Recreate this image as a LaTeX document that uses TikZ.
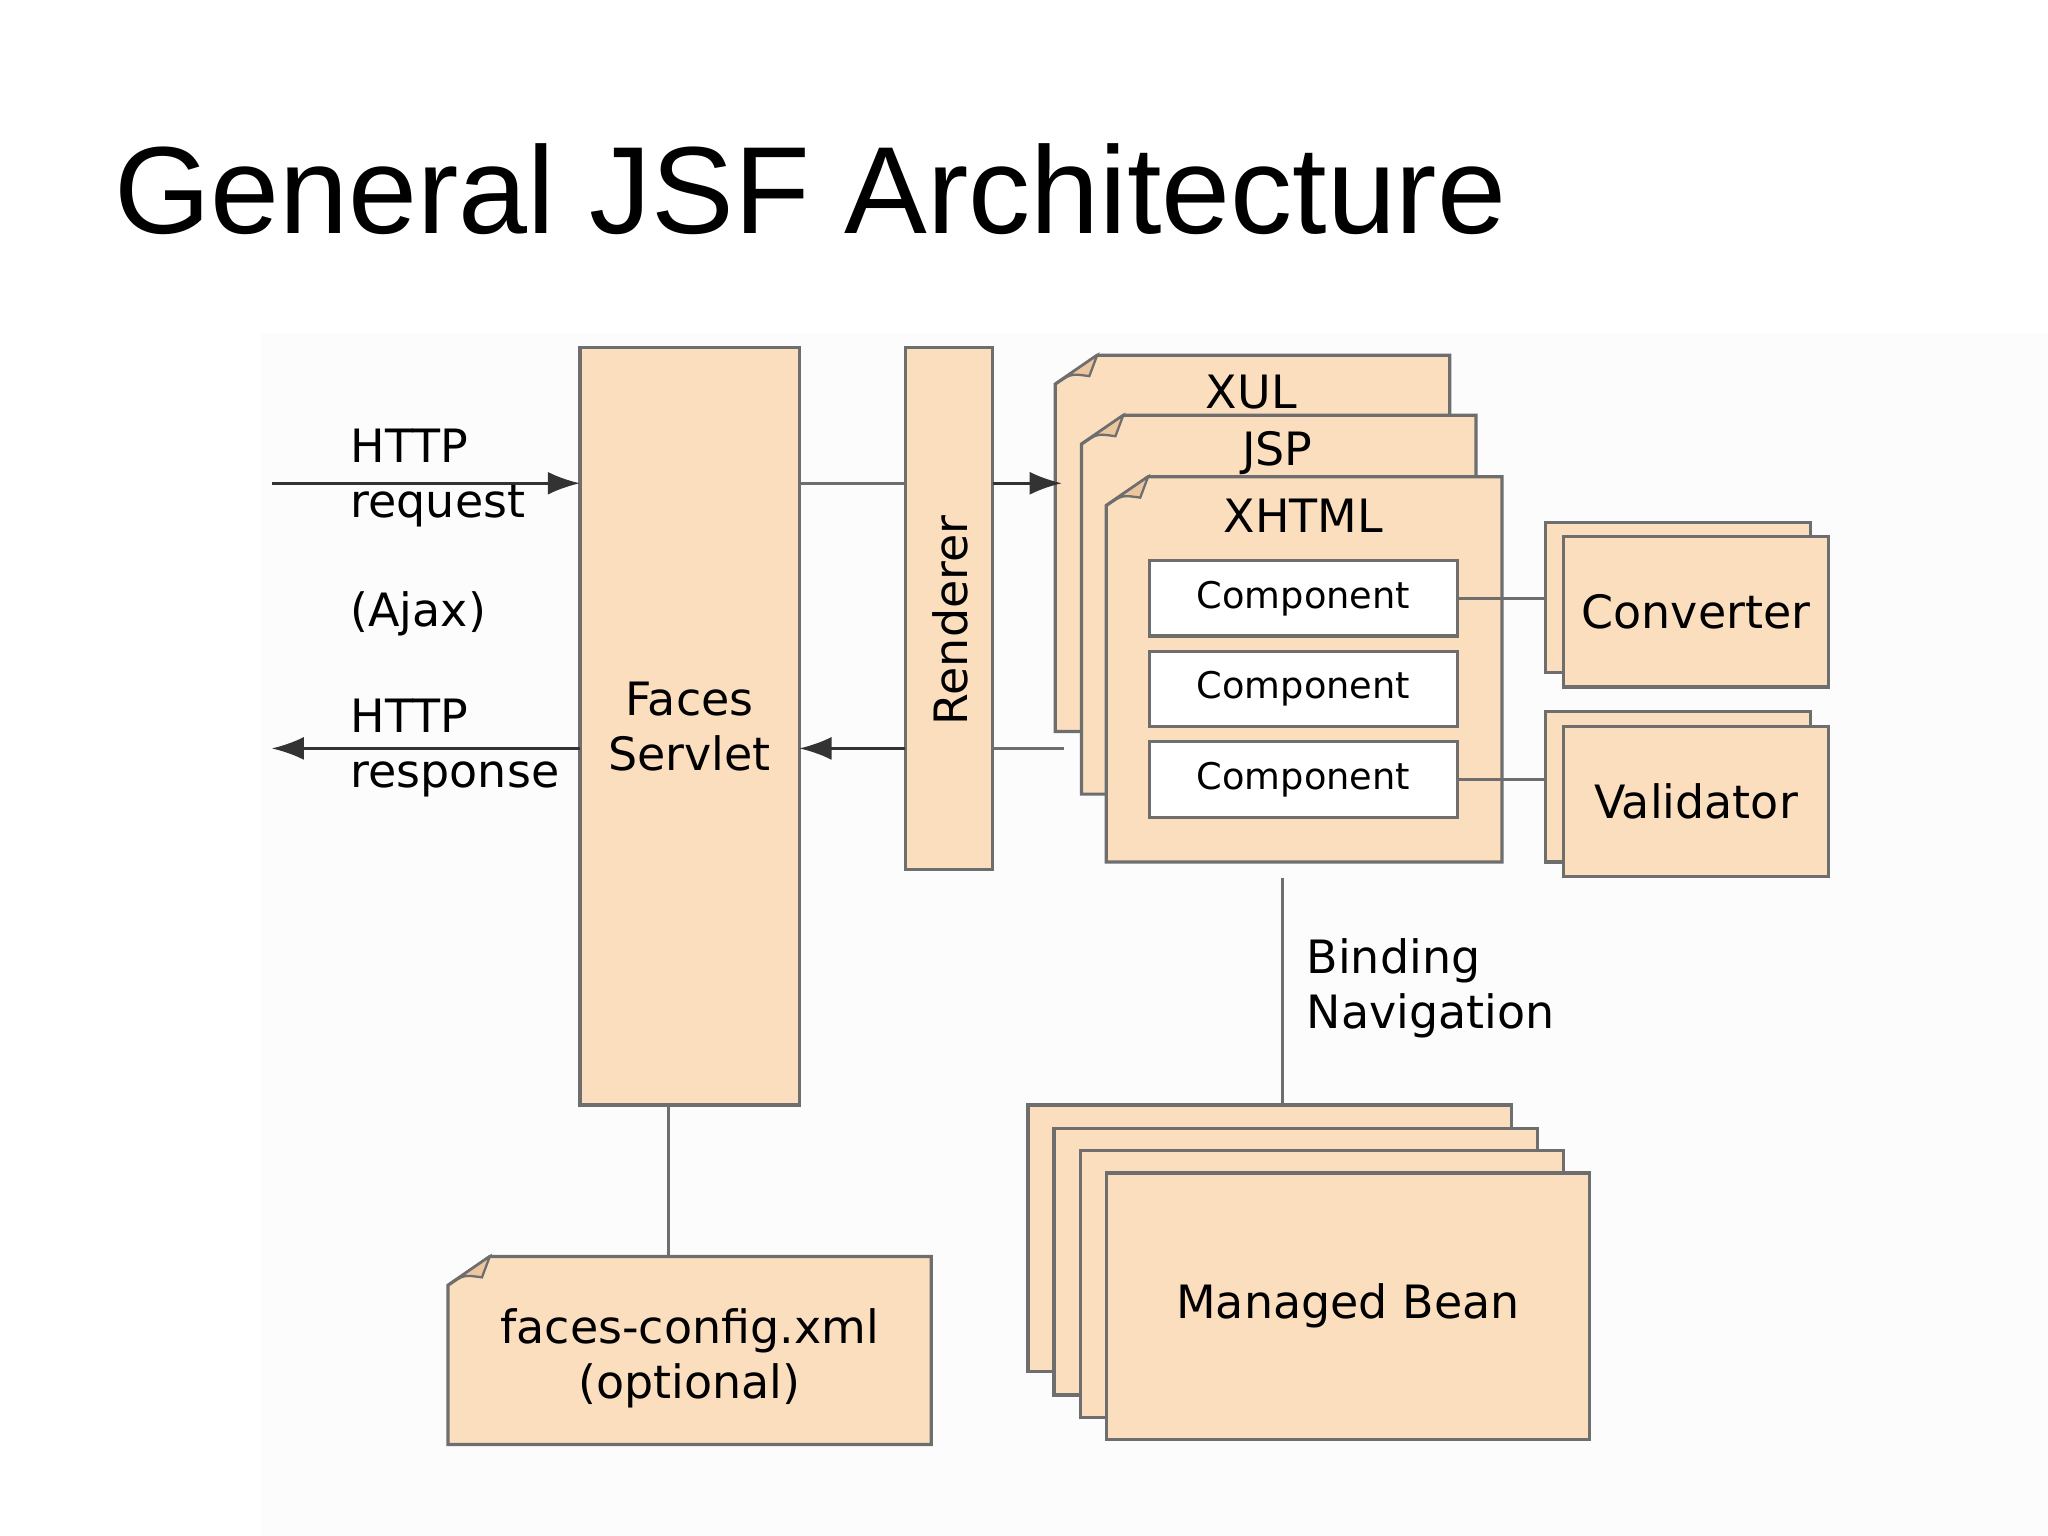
\documentclass[tikz,border=0pt]{standalone}
\usepackage{fontspec}
\setmainfont{DejaVu Sans}
\newfontfamily\titlefont{Liberation Sans}
\usetikzlibrary{fit,arrows.meta}
\definecolor{peach}{RGB}{251,222,190}
\definecolor{edge}{RGB}{110,110,110}
\tikzset{
 box/.style={draw=edge,fill=peach,line width=0.7pt,inner sep=0pt,outer sep=0pt},
 wbox/.style={draw=edge,fill=white,line width=0.7pt,inner sep=0pt,outer sep=0pt},
 ghost/.style={inner sep=0pt,outer sep=0pt},
 conn/.style={draw=edge,line width=0.6pt},
 arr/.style={conn,-{Latex[length=7pt,width=5pt]},draw=black!80},
 txt/.style={font=\fontsize{10}{12}\selectfont,align=left},
 ctxt/.style={font=\fontsize{10}{12}\selectfont,align=center},
}
\newcommand\docshape[5]{%
 \path[box] (#1,#2+22) -- (#1+32,#2) -- (#3,#2) -- (#3,#4) -- (#1,#4) -- cycle;
 \path[draw=edge,fill=peach!75!brown,line width=0.5pt] (#1,#2+22) .. controls (#1+12,#2+14) .. (#1+26,#2+16) -- (#1+32,#2) -- cycle;
 \node[ghost,fit={(#1,#2)(#3,#4)}] (#5) {};}
\begin{document}
\begin{tikzpicture}[x=0.01cm,y=-0.01cm]
\useasboundingbox (0,0) rectangle (1568,1176);
\fill[black!1] (200,255) rectangle (1568,1176);
\node[anchor=west,font=\titlefont\fontsize{27}{30}\selectfont] (title) at (75,145) {General JSF Architecture};
% servlet & renderer
\node[box,fit={(444,266)(612,846)}] (servlet) {};
\node[ctxt,align=center] at (528,556) {Faces\\Servlet};
\node[box,fit={(693,266)(760,666)}] (renderer) {};
\node[ctxt,rotate=90] at (728,475) {Renderer};
% documents
\docshape{808}{272}{1110}{560}{xul}
\node[ctxt] at (958,300) {XUL};
\docshape{828}{318}{1130}{608}{jsp}
\node[ctxt] at (978,347) {JSP};
\docshape{847}{365}{1150}{660}{xhtml}
\node[ctxt] at (998,395) {XHTML};
\foreach \n/\a/\b in {c1/429/487,c2/499/556,c3/568/626}{
 \node[wbox,fit={(880,\a)(1116,\b)}] (\n) {};
 \node[font=\fontsize{8}{9}\selectfont] at (\n.center) {Component};}
% converter / validator
\node[box,fit={(1183,400)(1386,515)}] (conv0) {};
\node[box,fit={(1197,411)(1400,526)}] (conv) {};
\node[ctxt] at (conv.center) {Converter};
\node[box,fit={(1183,545)(1386,660)}] (val0) {};
\node[box,fit={(1197,556)(1400,671)}] (val) {};
\node[ctxt] at (val.center) {Validator};
\draw[conn] (c1.east) -- (c1.east -| conv0.west);
\draw[conn] (c3.east) -- (c3.east -| val0.west);
% beans
\node[box,fit={(787,846)(1157,1050)}] (mb1) {};
\node[box,fit={(807,864)(1177,1068)}] (mb2) {};
\node[box,fit={(827,881)(1197,1085)}] (mb3) {};
\node[box,fit={(847,898)(1217,1102)}] (mb) {};
\node[ctxt] at (1032,1000) {Managed Bean};
\coordinate (bt) at (982,672);
\draw[conn] (bt) -- (982,846);
\node[txt,anchor=west] at (988,757) {Binding\\Navigation};
% faces config
\docshape{343}{962}{713}{1106}{cfg}
\node[ctxt] at (528,1040) {faces-config.xml\\(optional)};
\draw[conn] (512,846) -- (512,962);
% http
\coordinate (reqs) at (208,370);
\coordinate (resp) at (208,573);
\draw[arr] (reqs) -- (444,370);
\draw[arr] (444,573) -- (resp);
\node[txt,anchor=west] at (256,366) {HTTP\\request};
\node[txt,anchor=west] at (256,470) {(Ajax)};
\node[txt,anchor=west] at (256,573) {HTTP\\response};
\draw[conn] (612,370) -- (693,370);
\draw[arr] (760,370) -- (813,370);
\draw[conn] (815,573) -- (760,573);
\draw[arr] (693,573) -- (612,573);
\end{tikzpicture}
\end{document}
